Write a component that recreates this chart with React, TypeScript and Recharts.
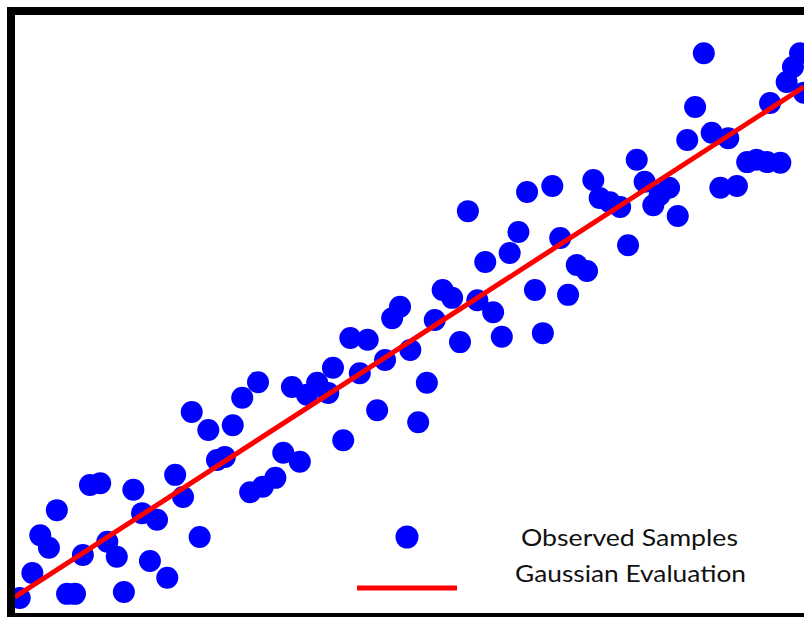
import React from 'react';
import { ComposedChart, XAxis, YAxis, Scatter, Legend } from 'recharts';

// observed samples (x, y in chart units 0..10)
const sampleX = [
  0.06, 0.22, 0.32, 0.43, 0.53, 0.66, 0.76, 0.86, 0.95, 1.08,
  1.17, 1.29, 1.38, 1.5, 1.61, 1.71, 1.8, 1.93, 2.03, 2.13,
  2.24, 2.34, 2.45, 2.56, 2.66, 2.76, 2.88, 2.98, 3.08, 3.14,
  3.3, 3.4, 3.61, 3.51, 3.7, 3.83, 3.97, 4.03, 4.16, 4.25,
  4.47, 4.37, 4.59, 4.69, 4.78, 4.88, 5.01, 5.11, 5.22, 5.32,
  5.42, 5.54, 5.64, 5.74, 5.86, 5.96, 6.06, 6.17, 6.27, 6.38,
  6.49, 6.59, 6.69, 6.81, 6.91, 7.01, 7.12, 7.25, 7.33, 7.41,
  7.54, 7.67, 7.77, 7.88, 7.98, 8.09, 8.17, 8.29, 8.4, 8.52,
  8.62, 8.73, 8.83, 9.04, 8.94, 9.15, 9.28, 9.4, 9.53, 9.7,
  9.57, 9.78, 9.86, 9.95, 10.0,
];
const sampleY = [
  0.25, 0.67, 1.3, 1.09, 1.72, 0.32, 0.32, 0.97, 2.14, 2.17,
  1.19, 0.94, 0.35, 2.06, 1.67, 0.87, 1.56, 0.59, 2.31, 1.94,
  3.36, 1.27, 3.06, 2.56, 2.61, 3.14, 3.6, 2.02, 3.86, 2.11,
  2.26, 2.68, 2.53, 3.78, 3.65, 3.85, 3.68, 4.1, 2.89, 4.6,
  4.57, 4.01, 3.39, 4.23, 4.93, 5.12, 4.4, 3.19, 3.85, 4.9,
  5.4, 5.27, 4.53, 6.72, 5.23, 5.87, 5.03, 4.62, 6.02, 6.37,
  7.04, 5.4, 4.68, 7.14, 6.27, 5.32, 5.82, 5.72, 7.24, 6.94,
  6.87, 6.79, 6.15, 7.58, 7.21, 6.82, 6.99, 7.11, 6.64, 7.91,
  8.46, 9.36, 8.03, 7.94, 7.11, 7.14, 7.54, 7.58, 7.54, 7.53,
  8.53, 8.88, 9.13, 9.36, 8.7,
];

// fitted line end points
const fitX = [0, 10];
const fitY = [0.27, 8.8];

const seriesNames = ['Observed Samples', 'Gaussian Evaluation'];

const samples = sampleX.map((x, i) => ({ x, y: sampleY[i] }));
const fit = fitX.map((x, i) => ({ x, y: fitY[i] }));

const BLUE = '#0000ff';
const RED = '#ff0000';

const Dot = (props: any) => {
  if (props.cx == null || props.cy == null) return null;
  return <circle cx={props.cx} cy={props.cy} r={11} fill={BLUE} />;
};

const NoDot = () => <g />;

const renderLegend = () => (
  <svg width={450} height={90} style={{ display: 'block', overflow: 'visible' }}>
    <circle cx={50} cy={22} r={11.5} fill={BLUE} />
    <line x1={0} x2={100} y1={73} y2={73} stroke={RED} strokeWidth={5} />
    <text
      x={164}
      y={31}
      fontFamily="Lato, 'Open Sans', sans-serif"
      fontSize={23}
      fill="#111"
      textLength={217}
      lengthAdjust="spacingAndGlyphs"
    >
      {seriesNames[0]}
    </text>
    <text
      x={158}
      y={67}
      fontFamily="Lato, 'Open Sans', sans-serif"
      fontSize={23}
      fill="#111"
      textLength={231}
      lengthAdjust="spacingAndGlyphs"
    >
      {seriesNames[1]}
    </text>
  </svg>
);

export default function App() {
  return (
    <div
      style={{
        position: 'absolute',
        left: 7,
        top: 7,
        width: 797,
        height: 610,
        boxSizing: 'border-box',
        borderLeft: '8px solid #000',
        borderTop: '8px solid #000',
        borderBottom: '4px solid #000',
        overflow: 'hidden',
        background: '#fff',
      }}
    >
      <ComposedChart width={789} height={598} margin={{ top: 0, right: 0, bottom: 0, left: 0 }}>
        <XAxis type="number" dataKey="x" domain={[0, 10]} hide allowDataOverflow />
        <YAxis type="number" dataKey="y" domain={[0, 10]} hide allowDataOverflow />
        <Scatter
          name={seriesNames[0]}
          data={samples}
          dataKey="y"
          fill={BLUE}
          shape={<Dot />}
          isAnimationActive={false}
        />
        {/* fitted line drawn as a second scatter so it sits above the dots */}
        <Scatter
          name={seriesNames[1]}
          data={fit}
          dataKey="y"
          fill={RED}
          line={{ stroke: RED, strokeWidth: 5 }}
          lineType="joint"
          shape={<NoDot />}
          isAnimationActive={false}
        />
        <Legend
          layout="vertical"
          align="center"
          verticalAlign="middle"
          content={renderLegend}
          wrapperStyle={{ left: 342, top: 500, width: 450, height: 90 }}
        />
      </ComposedChart>
    </div>
  );
}
